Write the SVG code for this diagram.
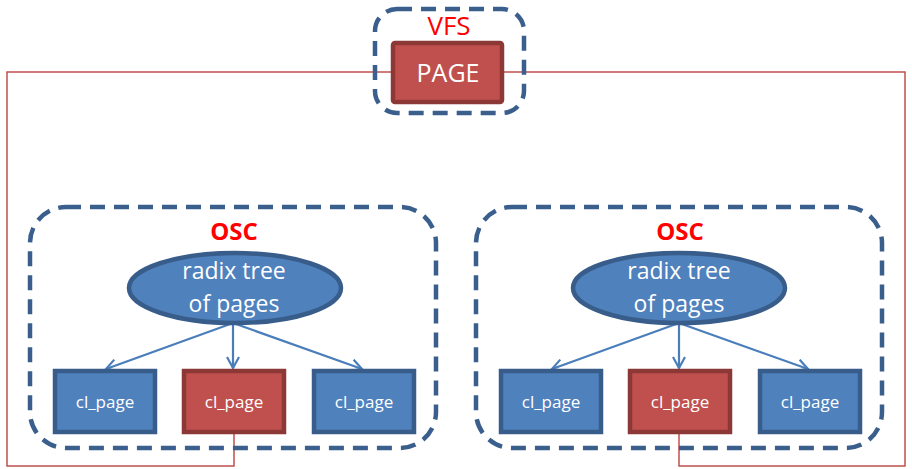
<svg xmlns="http://www.w3.org/2000/svg" width="912" height="469" viewBox="0 0 912 469">
<defs>
<style>
.dash{fill:none;stroke:#3A5F8D;stroke-width:4.5;stroke-dasharray:15 9}
.red{fill:#C0504D;stroke:#8C3836;stroke-width:4.5}
.blue{fill:#4F81BD;stroke:#385D8A;stroke-width:4.5}
.wire{fill:none;stroke:#C0504D;stroke-width:1.5}
.arr{fill:none;stroke:#4A7EBB;stroke-width:2.2;marker-end:url(#ah)}
.t{font-family:"Open Sans","Liberation Sans",sans-serif;fill:#fff;text-anchor:middle}
.lbl{font-family:"Open Sans","Liberation Sans",sans-serif;fill:#FF0000;text-anchor:middle}
</style>
<marker id="ah" viewBox="0 0 14 14" refX="12" refY="7" markerWidth="14" markerHeight="14" markerUnits="userSpaceOnUse" orient="auto">
<path d="M1,1 L12,7 L1,13" fill="none" stroke="#4A7EBB" stroke-width="2.2"/>
</marker>
</defs>
<g id="connectors">
<polyline class="wire" points="392,72 7,72 7,466 234,466 234,434"/>
<polyline class="wire" points="503,72 905,72 905,466 679,466 679,434"/>
<line class="arr" x1="233" y1="323" x2="106" y2="369"/>
<line class="arr" x1="233" y1="323" x2="233" y2="368"/>
<line class="arr" x1="233" y1="323" x2="362" y2="369"/>
<line class="arr" x1="679" y1="323" x2="552" y2="369"/>
<line class="arr" x1="679" y1="323" x2="679" y2="368"/>
<line class="arr" x1="679" y1="323" x2="808" y2="369"/>
</g>
<g id="vfs">
<rect class="dash" x="375" y="9" width="149" height="104" rx="22"/>
<text class="lbl" x="449" y="35" font-size="26">VFS</text>
</g>
<g id="page">
<rect class="red" x="393" y="43" width="109" height="59" rx="2"/>
<text class="t" x="448" y="82" font-size="25">PAGE</text>
</g>
<g id="osc1">
<rect class="dash" x="30" y="207" width="406" height="241" rx="36"/>
<text class="lbl" x="234" y="240" font-size="24" font-weight="bold">OSC</text>
</g>
<g id="radix1">
<ellipse class="blue" cx="235" cy="288" rx="106" ry="35"/>
<text class="t" x="234" y="279" font-size="23">radix tree</text>
<text class="t" x="234" y="312" font-size="23">of pages</text>
</g>
<g id="cl1a"><rect class="blue" x="55" y="371" width="100" height="61"/><text class="t" x="105" y="408" font-size="17">cl_page</text></g>
<g id="cl1b"><rect class="red" x="184" y="371" width="100" height="61"/><text class="t" x="234" y="408" font-size="17">cl_page</text></g>
<g id="cl1c"><rect class="blue" x="314" y="371" width="100" height="61"/><text class="t" x="364" y="408" font-size="17">cl_page</text></g>
<g id="osc2">
<rect class="dash" x="476" y="207" width="406" height="241" rx="36"/>
<text class="lbl" x="680" y="240" font-size="24" font-weight="bold">OSC</text>
</g>
<g id="radix2">
<ellipse class="blue" cx="679" cy="288" rx="106" ry="35"/>
<text class="t" x="679" y="279" font-size="23">radix tree</text>
<text class="t" x="679" y="312" font-size="23">of pages</text>
</g>
<g id="cl2a"><rect class="blue" x="501" y="371" width="100" height="61"/><text class="t" x="551" y="408" font-size="17">cl_page</text></g>
<g id="cl2b"><rect class="red" x="630" y="371" width="100" height="61"/><text class="t" x="680" y="408" font-size="17">cl_page</text></g>
<g id="cl2c"><rect class="blue" x="760" y="371" width="100" height="61"/><text class="t" x="810" y="408" font-size="17">cl_page</text></g>
</svg>
